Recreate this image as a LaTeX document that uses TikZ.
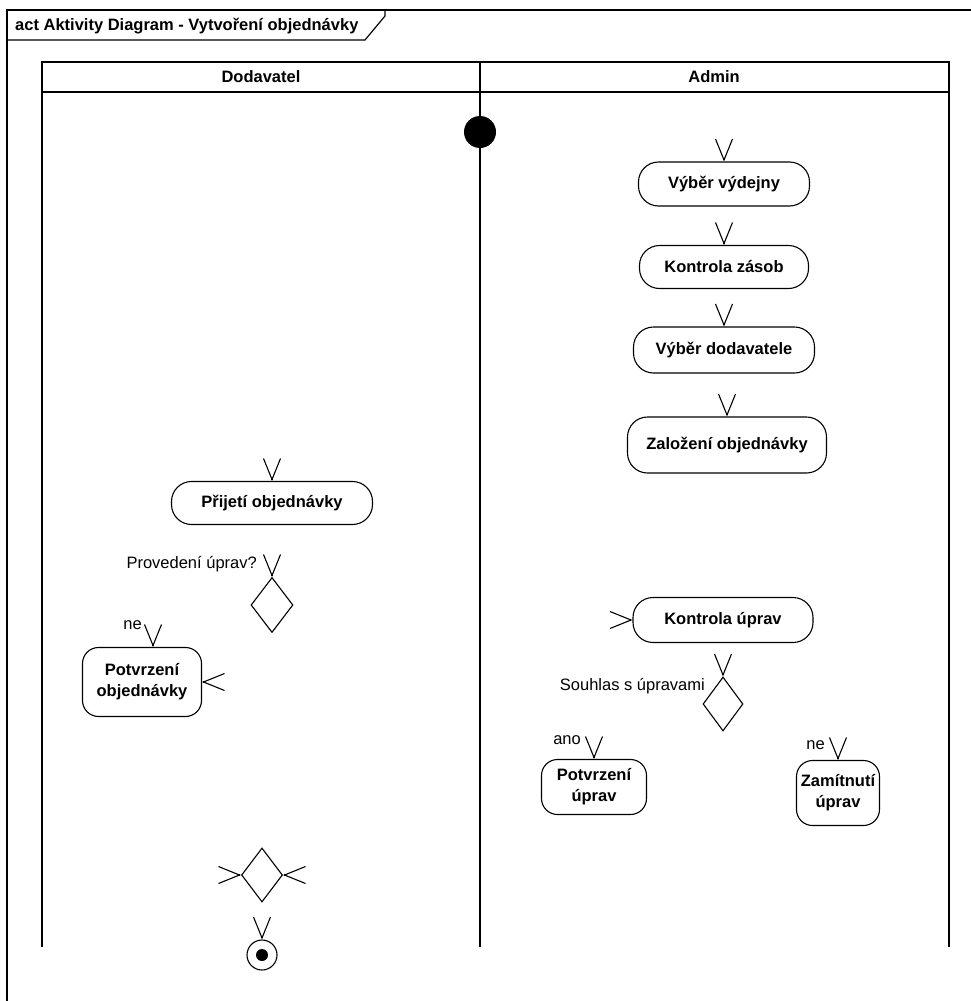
\documentclass[tikz,border=0pt]{standalone}
\usepackage{fontspec}
\setmainfont{Liberation Sans}
\usetikzlibrary{arrows.meta,positioning,shapes.geometric}
\tikzset{action/.style={rectangle,draw,line width=1.1pt,rounded corners=20pt,align=center,inner sep=2pt,
                        font=\bfseries\fontsize{16.5}{21}\selectfont},
         decision/.style={diamond,draw,line width=1.1pt,inner sep=0pt,minimum width=42pt,minimum height=55pt},
         guard/.style={inner sep=0pt,font=\fontsize{16.5}{19}\selectfont},
         flow/.style={line width=1.1pt,line join=miter,-{Straight Barb[length=21pt,width=17pt,line width=1.1pt]}},
         lane/.style={line width=1.8pt}}

\begin{document}
\begin{tikzpicture}[x=1pt,y=-1pt]
  \useasboundingbox (0,0) rectangle (971,1001);
  % frame
  \draw[line width=1.2pt] (7,1010) -- (7,10) -- (980,10);
  \draw[line width=1.2pt] (7,40) -- (365,40) -- (385,16) -- (385,10);
  \node (title) [anchor=west,inner sep=0pt,font=\bfseries\fontsize{16.5}{19}\selectfont] at (15,26) {act Aktivity Diagram - Vytvoření objednávky};

  % swimlanes
  \draw[lane] (42,947) -- (42,62) -- (949,62) -- (949,947);
  \draw[lane] (480,62) -- (480,947);
  \draw[lane] (42,92) -- (949,92);
  \node (laneDodavatel) [font=\bfseries\fontsize{16.5}{19}\selectfont] at (261,77) {Dodavatel};
  \node (laneAdmin)     [font=\bfseries\fontsize{16.5}{19}\selectfont] at (714,77) {Admin};

  % nodes
  \node (start)          [circle,fill,minimum size=32pt,inner sep=0pt] at (480,132) {};
  \node (vyber)          [action,minimum width=171pt,minimum height=44pt] at (724,184) {Výběr výdejny};
  \node (kontrola)       [action,minimum width=169pt,minimum height=43pt] at (724,267) {Kontrola zásob};
  \node (dodavatel)      [action,minimum width=181pt,minimum height=46pt] at (724,350) {Výběr dodavatele};
  \node (zalozeni)       [action,minimum width=199pt,minimum height=56pt] at (727,445) {Založení objednávky};
  \node (prijeti)        [action,minimum width=201pt,minimum height=43pt] at (272,503) {Přijetí objednávky};
  \node (upravy)         [decision] at (272,605) {};
  \node (potvrzeniObj)   [action,rounded corners=16pt,minimum width=119pt,minimum height=69pt] at (142,682) {Potvrzení\\objednávky};
  \node (kontrolaUprav)  [action,minimum width=180pt,minimum height=45pt] at (723,620) {Kontrola úprav};
  \node (souhlas)        [decision,minimum width=40pt,minimum height=54pt] at (723,704) {};
  \node (potvrzeniUprav) [action,rounded corners=16pt,minimum width=105pt,minimum height=55pt] at (594,787) {Potvrzení\\úprav};
  \node (zamitnuti)      [action,rounded corners=16pt,minimum width=83pt,minimum height=65pt] at (838,793) {Zamítnutí\\úprav};
  \node (merge)          [decision,minimum width=41pt,minimum height=54pt] at (262,875) {};
  \node (end)            [circle,draw,line width=1.1pt,minimum size=30pt,inner sep=0pt,
                          path picture={\fill (path picture bounding box.center) circle (6pt);}] at (262,955) {};

  % guards
  \node (lblUpravy)  [guard,anchor=base east] at (257,568) {Provedení úprav?};
  \node (lblNe)      [guard,anchor=base east] at (142,629) {ne};
  \node (lblSouhlas) [guard,anchor=base east] at (705,690) {Souhlas s úpravami};
  \node (lblAno)     [guard,anchor=base east] at (581,744) {ano};
  \node (lblNe2)     [guard,anchor=base east] at (825,749) {ne};

  % incoming ends of the flows
  \coordinate[above=1pt of vyber]          (inVyber);
  \coordinate[above=1pt of kontrola]       (inKontrola);
  \coordinate[above=1pt of dodavatel]      (inDodavatel);
  \coordinate[above=1pt of zalozeni]       (inZalozeni);
  \coordinate[above=1pt of prijeti]        (inPrijeti);
  \coordinate[above=1pt of upravy]         (inUpravy);
  \coordinate (inPotvrzeniObj) at ([xshift=11pt,yshift=1pt]potvrzeniObj.north);
  \coordinate[right=1pt of potvrzeniObj]   (inPotvrzeniObj2);
  \coordinate[left=1pt of kontrolaUprav]   (inKontrolaUprav);
  \coordinate[above=1pt of souhlas]        (inSouhlas);
  \coordinate[above=1pt of potvrzeniUprav] (inPotvrzeniUprav);
  \coordinate[above=1pt of zamitnuti]      (inZamitnuti);
  \coordinate[left=1pt of merge]           (inMergeL);
  \coordinate[right=1pt of merge]          (inMergeR);
  \coordinate[above=1pt of end]            (inEnd);

  \draw[flow] (inVyber) -- (vyber);
  \draw[flow] (inKontrola) -- (kontrola);
  \draw[flow] (inDodavatel) -- (dodavatel);
  \draw[flow] (inZalozeni) -- (zalozeni);
  \draw[flow] (inPrijeti) -- (prijeti);
  \draw[flow] (inUpravy) -- (upravy);
  \draw[flow] (inPotvrzeniObj) -- ([xshift=11pt]potvrzeniObj.north);
  \draw[flow] (inPotvrzeniObj2) -- (potvrzeniObj);
  \draw[flow] (inKontrolaUprav) -- (kontrolaUprav);
  \draw[flow] (inSouhlas) -- (souhlas);
  \draw[flow] (inPotvrzeniUprav) -- (potvrzeniUprav);
  \draw[flow] (inZamitnuti) -- (zamitnuti);
  \draw[flow] (inMergeL) -- (merge);
  \draw[flow] (inMergeR) -- (merge);
  \draw[flow] (inEnd) -- (end);
\end{tikzpicture}
\end{document}
